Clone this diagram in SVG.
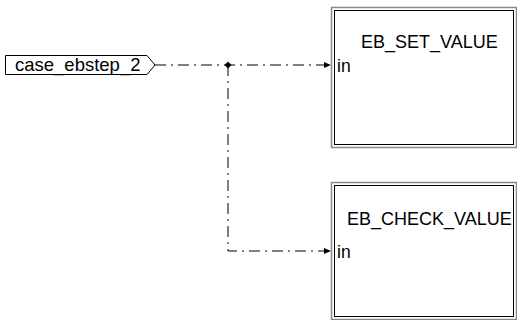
<svg xmlns="http://www.w3.org/2000/svg" width="517" height="320" viewBox="0 0 517 320">
<style>
text{font-family:"Liberation Sans",Arial,sans-serif;fill:#000}
.t{font-size:18px}
.c{font-size:18.5px}
.p{font-size:17.5px}
.outer{fill:none;stroke:#888;stroke-width:1.5}
.inner{fill:#fff;stroke:#000;stroke-width:1}
.conn{fill:none;stroke:#000;stroke-width:1;stroke-dasharray:11,5,2,5}
</style>
<defs>
<marker id="arr" markerWidth="8" markerHeight="8" refX="7" refY="4" orient="auto" markerUnits="userSpaceOnUse">
<path d="M0,1 L7,4 L0,7 Z" fill="#000"/>
</marker>
</defs>
<rect width="517" height="320" fill="#fff"/>
<g id="connectors">
<path class="conn" d="M155,65 H331" marker-end="url(#arr)"/>
<path class="conn" d="M228,65 V251 H331" marker-end="url(#arr)"/>
<path d="M228,61.5 L231.5,65 L228,68.5 L224.5,65 Z" fill="#000"/>
</g>
<g id="case_ebstep_2">
<polygon points="5.5,55.5 147,55.5 155,65 147,74.5 5.5,74.5" fill="#fff" stroke="#000" stroke-width="1"/>
<text class="c" x="15" y="71">case_ebstep_2</text>
</g>
<g id="EB_SET_VALUE">
<rect class="outer" x="331.5" y="7.5" width="185" height="140"/>
<rect class="inner" x="334.5" y="10.5" width="179" height="134"/>
<text class="t" x="361" y="48">EB_SET_VALUE</text>
<text class="p" x="337" y="72">in</text>
</g>
<g id="EB_CHECK_VALUE">
<rect class="outer" x="331.5" y="182.5" width="185" height="137"/>
<rect class="inner" x="334.5" y="185.5" width="179" height="131"/>
<text class="t" x="347" y="225">EB_CHECK_VALUE</text>
<text class="p" x="337" y="258">in</text>
</g>
</svg>
